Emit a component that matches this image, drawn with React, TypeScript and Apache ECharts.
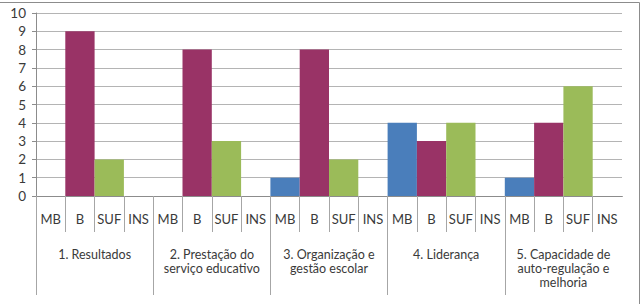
import React, { useEffect, useRef } from "react";
import * as echarts from "echarts";

// Evaluation domains and rating levels
const groups = [
  "1. Resultados",
  "2. Prestação do\nserviço educativo",
  "3. Organização e\ngestão escolar",
  "4. Liderança",
  "5. Capacidade de\nauto-regulação e\nmelhoria",
];
const levels = ["MB", "B", "SUF", "INS"];

// Counts per level, one value per domain
const mbValues = [0, 0, 1, 4, 1];
const bValues = [9, 8, 8, 3, 4];
const sufValues = [2, 3, 2, 4, 6];
const insValues = [0, 0, 0, 0, 0];

const yTicks = [0, 1, 2, 3, 4, 5, 6, 7, 8, 9, 10];

const levelColors = ["#4A7EBB", "#993366", "#9BBB59", "#7F7F7F"];
const FONT = "Lato, 'Open Sans', sans-serif";

export default function App() {
  const ref = useRef<HTMLDivElement>(null);

  useEffect(() => {
    if (!ref.current) return;
    const chart = echarts.init(ref.current, undefined, { renderer: "svg" });

    const levelSeries = [mbValues, bValues, sufValues, insValues];
    const categories: string[] = [];
    const data: any[] = [];
    groups.forEach((_, gi) => {
      levels.forEach((lv, li) => {
        categories.push(lv);
        const v = levelSeries[li][gi];
        data.push({
          value: v === 0 ? null : v,
          itemStyle: { color: levelColors[li] },
        });
      });
    });

    const gridLeft = 36;
    const gridRight = 19;
    const gridTop = 13;
    const gridBottom = 108;
    const W = 641;

    chart.setOption({
      animation: false,
      backgroundColor: "#ffffff",
      grid: { left: gridLeft, right: gridRight, top: gridTop, bottom: gridBottom },
      xAxis: [
        {
          type: "category",
          data: categories,
          position: "bottom",
          axisLine: { show: true, lineStyle: { color: "#8C8C8C", width: 1 } },
          axisTick: {
            show: true,
            length: 36,
            interval: 0,
            lineStyle: { color: "#A6A6A6", width: 1 },
          },
          axisLabel: {
            interval: 0,
            margin: 16,
            color: "#3A3A3A",
            fontSize: 13,
            fontFamily: FONT,
          },
          splitLine: { show: false },
        },
        {
          type: "category",
          data: groups,
          position: "bottom",
          axisLine: { show: false },
          axisTick: {
            show: true,
            length: 99,
            interval: 0,
            lineStyle: { color: "#A6A6A6", width: 1 },
          },
          axisLabel: {
            interval: 0,
            margin: 51,
            color: "#3A3A3A",
            fontSize: 12.5,
            lineHeight: 14,
            fontFamily: FONT,
          },
          splitLine: { show: false },
        },
      ],
      yAxis: {
        type: "value",
        min: yTicks[0],
        max: yTicks[yTicks.length - 1],
        interval: 1,
        axisLine: { show: true, lineStyle: { color: "#8C8C8C", width: 1 } },
        axisTick: { show: true, length: 4, lineStyle: { color: "#8C8C8C" } },
        axisLabel: {
          margin: 10,
          color: "#3A3A3A",
          fontSize: 13.5,
          fontFamily: FONT,
        },
        splitLine: { show: true, lineStyle: { color: "#B4B4B4", width: 1 } },
      },
      series: [
        {
          type: "bar",
          xAxisIndex: 0,
          data,
          barCategoryGap: "0%",
          barWidth: "100%",
        },
      ],
      graphic: [
        // hide the tail tick at the right end of the category axes
        {
          type: "rect",
          shape: { x: W - gridRight - 1, y: 304 - gridBottom + 1, width: 4, height: 110 },
          style: { fill: "#ffffff" },
          z: 100,
        },
        // chart frame
        {
          type: "rect",
          shape: { x: -5, y: 2.5, width: 644.5, height: 400 },
          style: { fill: "none", stroke: "#8C8C8C", lineWidth: 1 },
          z: 101,
        },
      ],
    });

    return () => chart.dispose();
  }, []);

  return (
    <div
      ref={ref}
      style={{ position: "fixed", left: 0, top: 0, width: 641, height: 304 }}
    />
  );
}
